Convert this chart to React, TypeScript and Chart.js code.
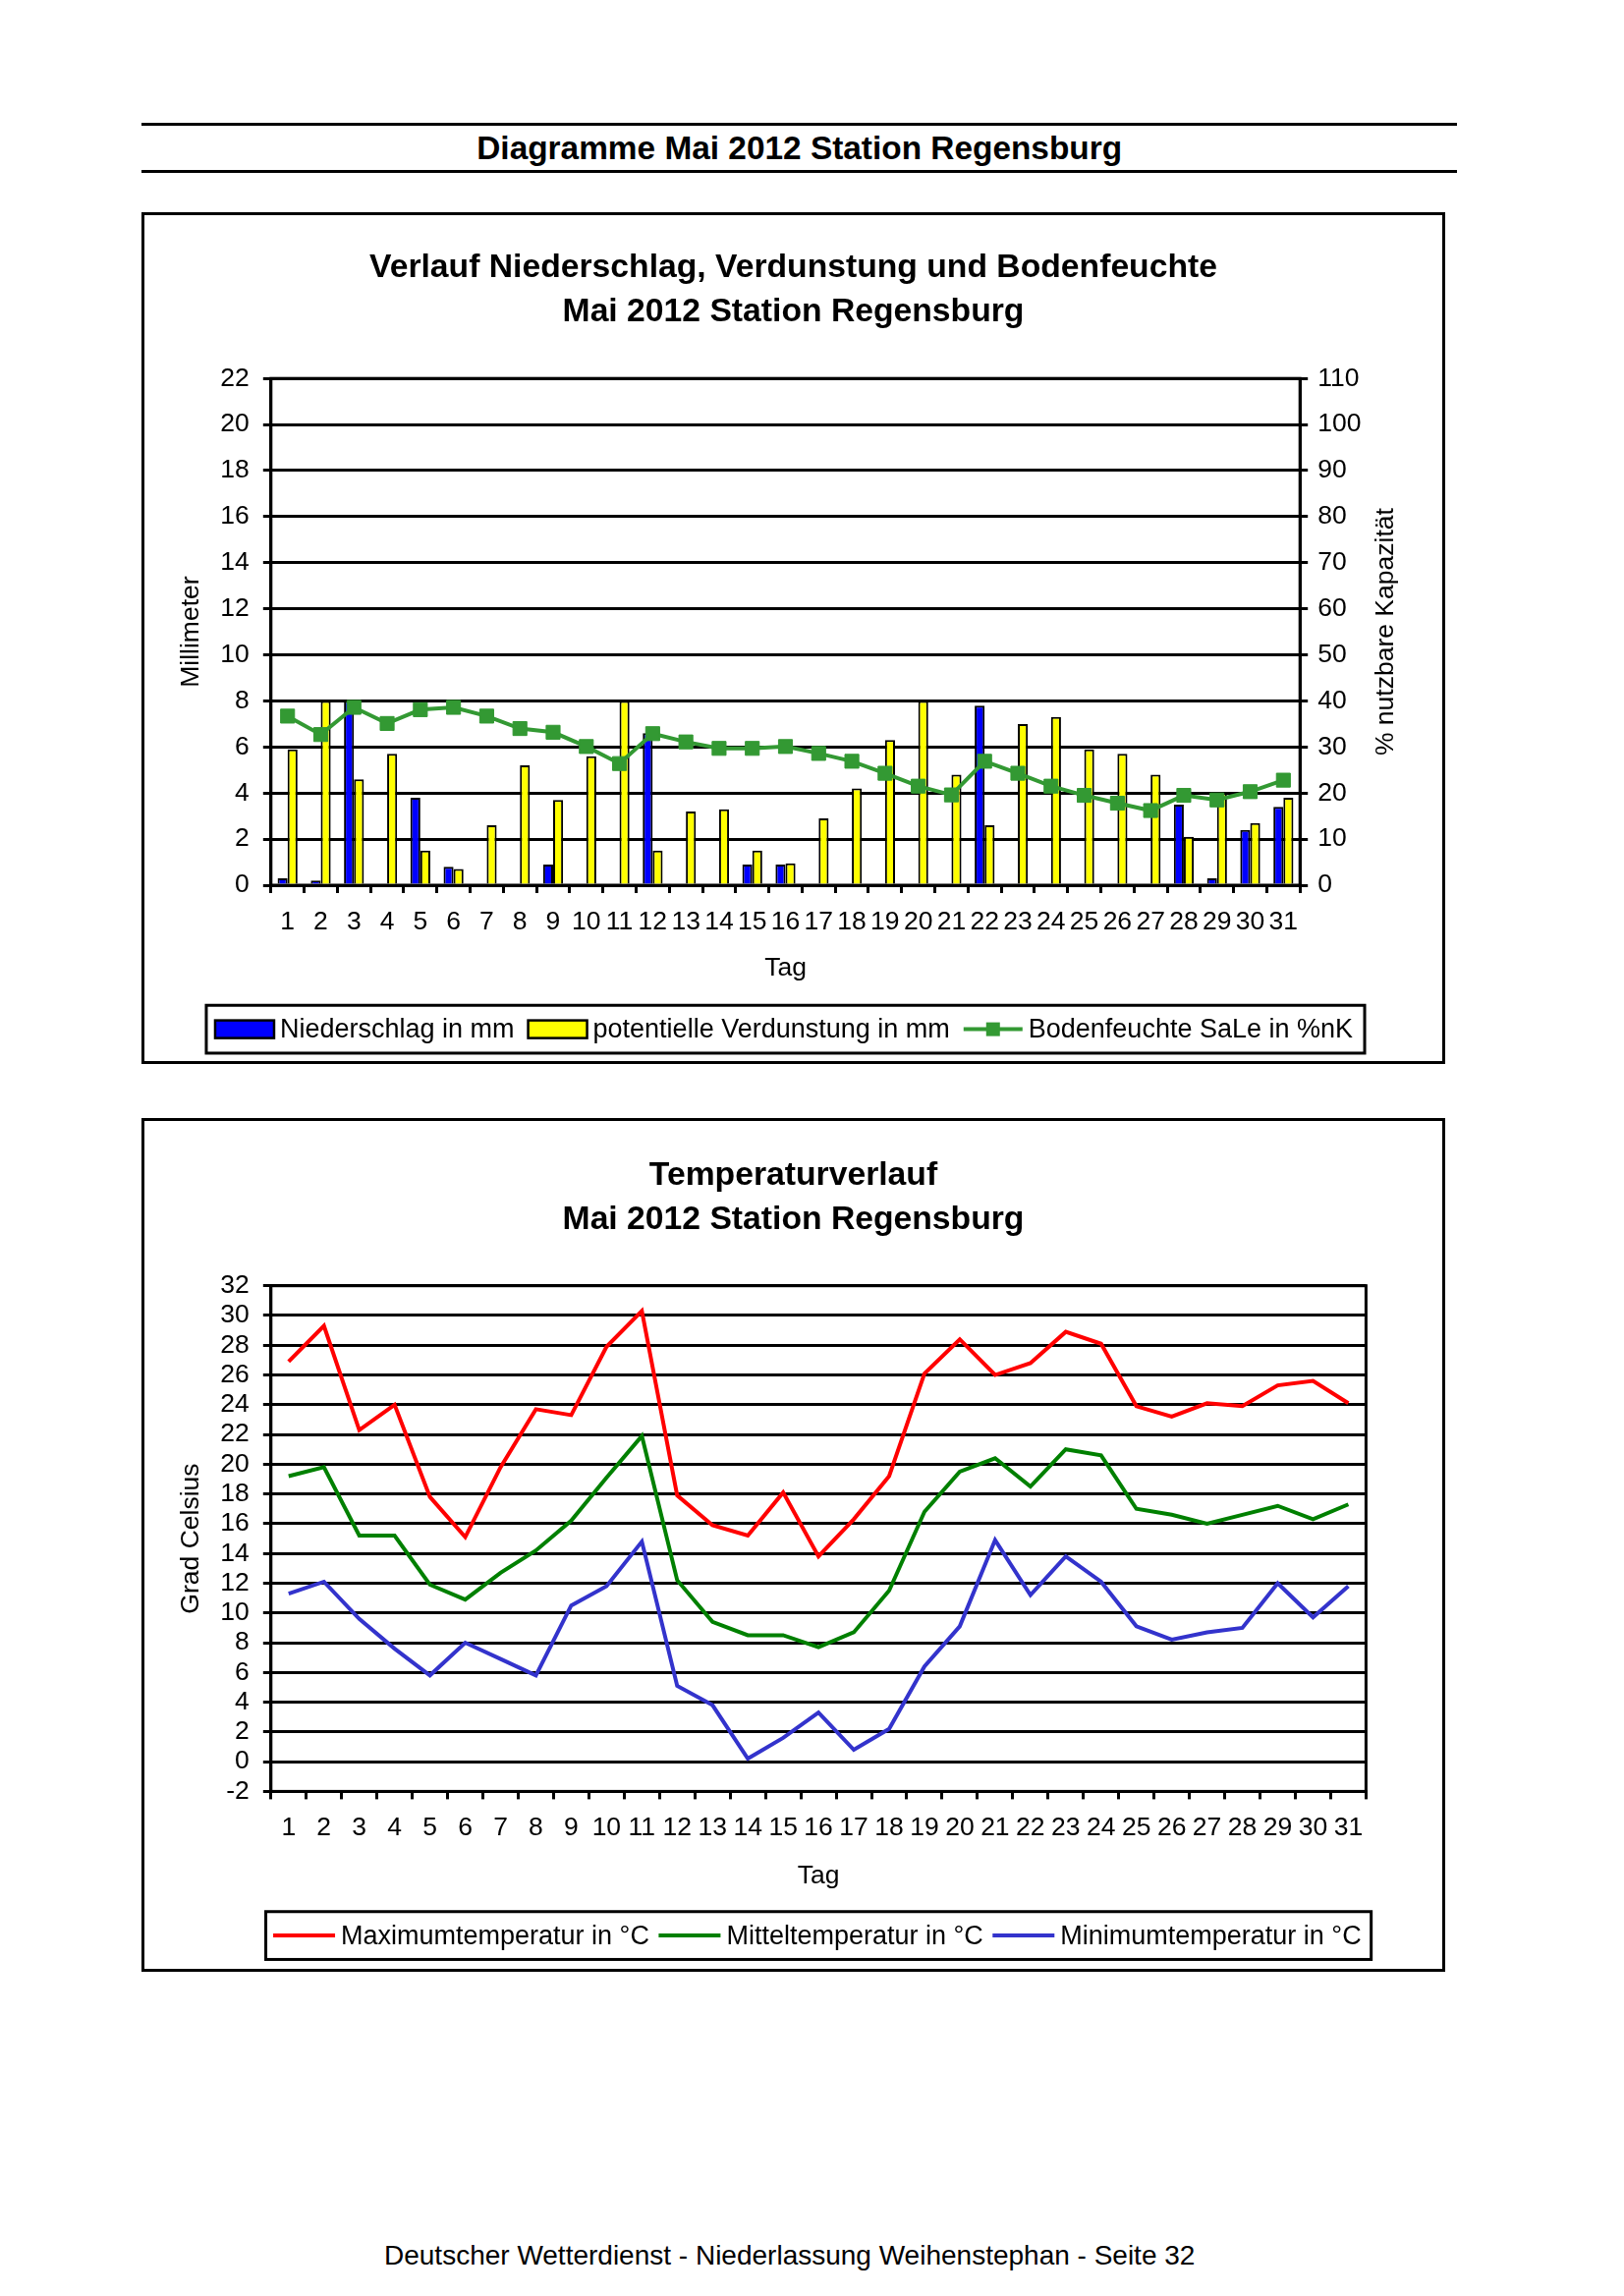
import React, { useEffect, useRef } from "react";
import { Chart, registerables } from "chart.js";

Chart.register(...registerables);

const FONT = "'Liberation Sans', Arial, Helvetica, sans-serif";

// ---------- data ----------
const days = [
  "1", "2", "3", "4", "5", "6", "7", "8", "9", "10",
  "11", "12", "13", "14", "15", "16", "17", "18", "19", "20",
  "21", "22", "23", "24", "25", "26", "27", "28", "29", "30", "31",
];

const precipitationMm = [
  0.3, 0.2, 8.0, 0, 3.8, 0.8, 0, 0, 0.9, 0,
  0, 6.6, 0, 0, 0.9, 0.9, 0, 0, 0, 0,
  0, 7.8, 0, 0, 0, 0, 0, 3.5, 0.3, 2.4, 3.4,
];

const evaporationMm = [
  5.9, 8.0, 4.6, 5.7, 1.5, 0.7, 2.6, 5.2, 3.7, 5.6,
  8.0, 1.5, 3.2, 3.3, 1.5, 0.95, 2.9, 4.2, 6.3, 8.0,
  4.8, 2.6, 7.0, 7.3, 5.9, 5.7, 4.8, 2.1, 4.0, 2.7, 3.8,
];

const soilMoisturePct = [
  36.7, 32.7, 38.6, 35.1, 38.1, 38.6, 36.7, 34.0, 33.2, 30.1,
  26.4, 32.9, 31.1, 29.7, 29.7, 30.1, 28.6, 26.9, 24.3, 21.5,
  19.6, 26.9, 24.3, 21.5, 19.5, 17.8, 16.2, 19.5, 18.5, 20.3, 22.8,
];

const tempMax = [
  26.9, 29.3, 22.3, 24.0, 17.8, 15.1, 19.8, 23.7, 23.3, 27.9,
  30.3, 17.9, 15.9, 15.2, 18.1, 13.8, 16.3, 19.2, 26.1, 28.4,
  26.0, 26.8, 28.9, 28.1, 23.9, 23.2, 24.1, 23.9, 25.3, 25.6, 24.1,
];

const tempMean = [
  19.2, 19.8, 15.2, 15.2, 11.9, 10.9, 12.7, 14.2, 16.2, 19.1,
  21.9, 12.2, 9.4, 8.5, 8.5, 7.7, 8.7, 11.5, 16.8, 19.5,
  20.4, 18.5, 21.0, 20.6, 17.0, 16.6, 16.0, 16.6, 17.2, 16.3, 17.3,
];

const tempMin = [
  11.3, 12.1, 9.6, 7.6, 5.8, 8.0, 6.9, 5.8, 10.5, 11.8,
  14.8, 5.1, 3.8, 0.2, 1.6, 3.3, 0.8, 2.2, 6.4, 9.1,
  14.9, 11.2, 13.8, 12.1, 9.1, 8.2, 8.7, 9.0, 12.0, 9.7, 11.8,
];

const mmAxis = { min: 0, max: 22, step: 2 };
const pctAxis = { min: 0, max: 110, step: 10 };
const tempAxis = { min: -2, max: 32, step: 2 };

// ---------- plugins ----------
const chartAreaFrame = {
  id: "chartAreaFrame",
  beforeDatasetsDraw(chart: any) {
    const { ctx, chartArea: a } = chart;
    ctx.save();
    ctx.strokeStyle = "#000";
    ctx.lineWidth = 3;
    ctx.strokeRect(a.left, a.top, a.right - a.left, a.bottom - a.top);
    ctx.restore();
  },
};

const boxLegend = {
  id: "boxLegend",
  afterDraw(chart: any, _args: any, o: any) {
    const { ctx, chartArea: a } = chart;
    const sets = chart.data.datasets;
    ctx.save();
    ctx.font = `${o.fontSize}px ${FONT}`;
    const widths = sets.map(
      (d: any) => o.symbolWidth + o.textGap + ctx.measureText(d.label).width
    );
    const inner =
      widths.reduce((s: number, w: number) => s + w, 0) +
      o.itemGap * (sets.length - 1);
    const boxW = inner + o.padLeft + o.padRight;
    const cy = a.bottom + o.offsetY;
    const left = (a.left + a.right) / 2 - boxW / 2;
    ctx.lineWidth = 3;
    ctx.strokeStyle = "#000";
    ctx.strokeRect(left, cy - o.boxHeight / 2, boxW, o.boxHeight);
    let x = left + o.padLeft;
    sets.forEach((d: any, i: number) => {
      const kind = d.type || chart.config.type;
      if (kind === "bar") {
        ctx.fillStyle = d.backgroundColor;
        ctx.fillRect(x, cy - 9, o.symbolWidth, 18);
        ctx.lineWidth = 2.5;
        ctx.strokeStyle = "#000";
        ctx.strokeRect(x, cy - 9, o.symbolWidth, 18);
      } else {
        ctx.strokeStyle = d.borderColor;
        ctx.lineWidth = d.borderWidth;
        ctx.beginPath();
        ctx.moveTo(x, cy);
        ctx.lineTo(x + o.symbolWidth, cy);
        ctx.stroke();
        if (d.pointRadius > 0) {
          const s = 14;
          ctx.fillStyle = d.backgroundColor;
          ctx.fillRect(x + o.symbolWidth / 2 - s / 2, cy - s / 2, s, s);
        }
      }
      ctx.fillStyle = "#000";
      ctx.textBaseline = "middle";
      ctx.textAlign = "left";
      ctx.fillText(d.label, x + o.symbolWidth + o.textGap, cy + 1);
      x += widths[i] + o.itemGap;
    });
    ctx.restore();
  },
};

const rightTitle = {
  id: "rightTitle",
  afterDraw(chart: any, _args: any, o: any) {
    if (!o || !o.text) return;
    const { ctx, chartArea: a } = chart;
    ctx.save();
    ctx.translate(a.right + o.offsetX, (a.top + a.bottom) / 2);
    ctx.rotate(-Math.PI / 2);
    ctx.font = `${o.fontSize}px ${FONT}`;
    ctx.fillStyle = "#000";
    ctx.textAlign = "center";
    ctx.textBaseline = "middle";
    ctx.fillText(o.text, 0, 0);
    ctx.restore();
  },
};

// ---------- shared option pieces ----------
const FS = 26.5;
const tickFont = { size: FS, family: FONT };

const xAxis = (titlePadBottom: number) => ({
  type: "category" as const,
  offset: true,
  grid: {
    display: true,
    offset: true,
    drawOnChartArea: false,
    drawTicks: true,
    tickLength: 8,
    color: "#000",
    lineWidth: 3,
  },
  border: { display: true, color: "#000", width: 3 },
  ticks: {
    font: tickFont,
    color: "#000",
    padding: 13.4,
    maxRotation: 0,
    minRotation: 0,
    autoSkip: false,
  },
  title: {
    display: true,
    text: "Tag",
    font: tickFont,
    color: "#000",
    padding: { top: 0, bottom: titlePadBottom },
  },
  afterFit: (s: any) => {
    s.height = 118;
  },
});

const leftAxis = (
  ax: { min: number; max: number; step: number },
  title: string
) => ({
  position: "left" as const,
  min: ax.min,
  max: ax.max,
  ticks: {
    stepSize: ax.step,
    font: tickFont,
    color: "#000",
    padding: 14,
    autoSkip: false,
  },
  grid: {
    color: "#000",
    lineWidth: 3,
    drawTicks: true,
    tickLength: 8,
  },
  border: { display: true, color: "#000", width: 3 },
  title: {
    display: true,
    text: title,
    font: tickFont,
    color: "#000",
    padding: { top: 31.8, bottom: 0 },
  },
  afterFit: (s: any) => {
    s.width = 128.8;
  },
});

const titleOpts = (lines: string[], padTop: number, padBottom: number) => ({
  display: true,
  text: lines,
  color: "#000",
  font: { size: 33.7, weight: "bold" as const, family: FONT, lineHeight: "44.8px" },
  padding: { top: padTop, bottom: padBottom },
});

export default function App() {
  const topRef = useRef<HTMLCanvasElement | null>(null);
  const botRef = useRef<HTMLCanvasElement | null>(null);

  useEffect(() => {
    Chart.defaults.font.family = FONT;
    Chart.defaults.color = "#000";

    const top = new Chart(topRef.current as HTMLCanvasElement, {
      type: "bar",
      data: {
        labels: days,
        datasets: [
          {
            type: "bar",
            label: "Niederschlag in mm",
            data: precipitationMm,
            backgroundColor: "#0000FF",
            borderColor: "#000",
            borderWidth: 2,
            yAxisID: "y",
            order: 2,
            categoryPercentage: 0.6,
            barPercentage: 1.0,
          },
          {
            type: "bar",
            label: "potentielle Verdunstung in mm",
            data: evaporationMm,
            backgroundColor: "#FFFF00",
            borderColor: "#000",
            borderWidth: 2,
            yAxisID: "y",
            order: 2,
            categoryPercentage: 0.6,
            barPercentage: 1.0,
          },
          {
            type: "line",
            label: "Bodenfeuchte SaLe in %nK",
            data: soilMoisturePct,
            borderColor: "#339933",
            backgroundColor: "#339933",
            borderWidth: 4,
            pointStyle: "rect",
            pointRadius: 10,
            pointBorderWidth: 1,
            tension: 0,
            yAxisID: "y2",
            order: 0,
          },
        ] as any,
      },
      options: {
        animation: false,
        responsive: true,
        maintainAspectRatio: false,
        devicePixelRatio: 1,
        layout: { padding: { top: 0, left: 0, right: 0, bottom: 61.4 } },
        plugins: {
          legend: { display: false },
          tooltip: { enabled: false },
          title: titleOpts(
            [
              "Verlauf Niederschlag, Verdunstung und Bodenfeuchte",
              "Mai 2012 Station Regensburg",
            ],
            31.3,
            45.3
          ),
          boxLegend: {
            fontSize: 27,
            symbolWidth: 60,
            textGap: 6,
            itemGap: 14,
            padLeft: 9,
            padRight: 12,
            boxHeight: 48.7,
            offsetY: 146.6,
          },
          rightTitle: { text: "% nutzbare Kapazität", offsetX: 87, fontSize: FS },
        } as any,
        scales: {
          x: xAxis(17.2),
          y: leftAxis(mmAxis, "Millimeter"),
          y2: {
            position: "right",
            min: pctAxis.min,
            max: pctAxis.max,
            ticks: {
              stepSize: pctAxis.step,
              font: tickFont,
              color: "#000",
              padding: 10,
              autoSkip: false,
            },
            grid: {
              drawOnChartArea: false,
              drawTicks: true,
              tickLength: 8,
              color: "#000",
              lineWidth: 3,
            },
            border: { display: true, color: "#000", width: 3 },
            afterFit: (s: any) => {
              s.width = 144.8;
            },
          },
        } as any,
      },
      plugins: [chartAreaFrame, boxLegend, rightTitle],
    });

    const bot = new Chart(botRef.current as HTMLCanvasElement, {
      type: "line",
      data: {
        labels: days,
        datasets: [
          {
            label: "Maximumtemperatur in °C",
            data: tempMax,
            borderColor: "#FF0000",
            backgroundColor: "#FF0000",
            borderWidth: 4,
            pointRadius: 0,
            tension: 0,
          },
          {
            label: "Mitteltemperatur in °C",
            data: tempMean,
            borderColor: "#008000",
            backgroundColor: "#008000",
            borderWidth: 4,
            pointRadius: 0,
            tension: 0,
          },
          {
            label: "Minimumtemperatur in °C",
            data: tempMin,
            borderColor: "#3333CC",
            backgroundColor: "#3333CC",
            borderWidth: 4,
            pointRadius: 0,
            tension: 0,
          },
        ],
      },
      options: {
        animation: false,
        responsive: true,
        maintainAspectRatio: false,
        devicePixelRatio: 1,
        layout: { padding: { top: 0, left: 0, right: 0, bottom: 63 } },
        plugins: {
          legend: { display: false },
          tooltip: { enabled: false },
          title: titleOpts(["Temperaturverlauf", "Mai 2012 Station Regensburg"], 33.3, 44.8),
          boxLegend: {
            fontSize: 27,
            symbolWidth: 63,
            textGap: 6,
            itemGap: 9.5,
            padLeft: 7.5,
            padRight: 10,
            boxHeight: 48.7,
            offsetY: 146.7,
          },
        } as any,
        scales: {
          x: xAxis(15.6),
          y: leftAxis(tempAxis, "Grad Celsius"),
          yr: {
            position: "right",
            display: true,
            ticks: { display: false },
            grid: { display: false },
            border: { display: false },
            afterFit: (s: any) => {
              s.width = 77.6;
            },
          },
        } as any,
      },
      plugins: [chartAreaFrame, boxLegend],
    });

    return () => {
      top.destroy();
      bot.destroy();
    };
  }, []);

  const rule = (y: number) => (
    <div
      style={{
        position: "absolute",
        left: 144.2,
        top: y,
        width: 1339,
        height: 3,
        background: "#000",
      }}
    />
  );

  const box = (y: number, h: number, ref: any) => (
    <div
      style={{
        position: "absolute",
        left: 144.2,
        top: y,
        width: 1327,
        height: h,
        border: "3px solid #000",
        boxSizing: "border-box",
      }}
    >
      <div style={{ position: "relative", width: 1321, height: h - 6 }}>
        <canvas ref={ref} />
      </div>
    </div>
  );

  return (
    <div
      style={{
        position: "absolute",
        left: 0,
        top: 0,
        width: 1653,
        height: 2337,
        background: "#fff",
        fontFamily: FONT,
        color: "#000",
      }}
    >
      {rule(124.5)}
      <div
        style={{
          position: "absolute",
          left: 144.2,
          top: 128,
          width: 1339,
          height: 46,
          lineHeight: "46px",
          textAlign: "center",
          fontWeight: "bold",
          fontSize: 33.4,
        }}
      >
        Diagramme Mai 2012 Station Regensburg
      </div>
      {rule(172.5)}
      {box(215.9, 867.4, topRef)}
      {box(1138, 869.4, botRef)}
      <div
        style={{
          position: "absolute",
          left: 0,
          top: 2277.8,
          width: 1607.4,
          height: 36,
          lineHeight: "36px",
          textAlign: "center",
          fontSize: 28,
        }}
      >
        Deutscher Wetterdienst - Niederlassung Weihenstephan - Seite 32
      </div>
    </div>
  );
}
